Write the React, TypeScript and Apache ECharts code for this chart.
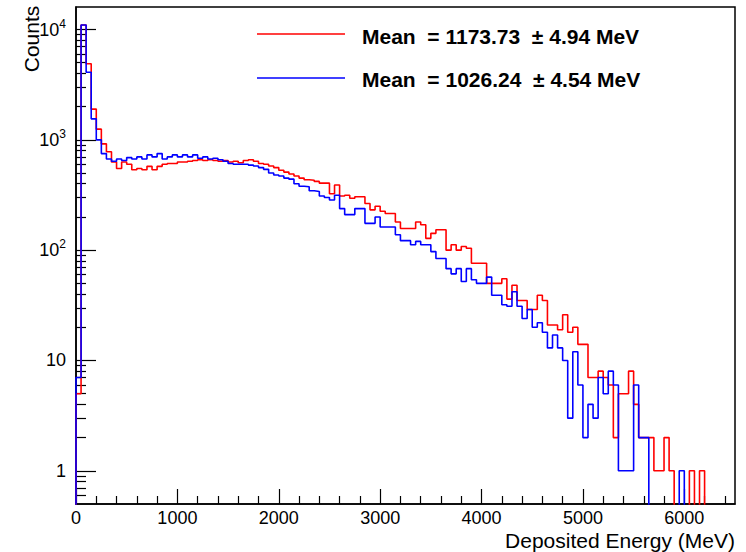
import React, { useEffect, useRef } from 'react';
import * as echarts from 'echarts';

// Histogram: 50 MeV bins from 0 to 6500 MeV (130 bins)
const binWidth = 50;
const xRange = [0, 6500];

const redCounts = [
  5, 11000, 4900, 1900, 1250, 920, 780, 630, 550, 630,
  600, 535, 550, 535, 575, 535, 575, 600, 610, 610,
  630, 630, 640, 650, 660, 650, 660, 650, 640, 650,
  630, 640, 620, 650, 660, 640, 610, 600, 580, 560,
  530, 510, 490, 470, 450, 435, 430, 420, 405, 405,
  325, 390, 310, 315, 295, 305, 305, 265, 232, 250,
  225, 215, 215, 180, 157, 157, 157, 180, 170, 128,
  142, 153, 153, 100, 112, 100, 108, 104, 76, 76,
  76, 50, 50, 50, 55, 36, 48, 35, 35, 29,
  29, 39, 35, 21, 21, 19, 26, 18, 20, 14,
  14, 7, 7, 8, 7, 6, 2, 5, 5, 8,
  4, 2, 2, 2, 1, 1, 2, 1, 0, 0,
  0, 1, 0, 1, 0, 0, 0, 0, 0, 0,
];

const blueCounts = [
  7, 11000, 4100, 1550, 1000, 750, 670, 640, 670, 650,
  690, 670, 700, 670, 730, 700, 750, 670, 700, 730,
  700, 730, 700, 730, 680, 700, 670, 680, 660, 640,
  610, 600, 600, 600, 590, 580, 560, 540, 500, 480,
  470, 450, 440, 400, 380, 375, 345, 340, 310, 300,
  285, 315, 238, 210, 210, 238, 238, 175, 175, 200,
  162, 162, 162, 138, 122, 122, 112, 120, 112, 112,
  97, 84, 84, 68, 61, 68, 52, 68, 54, 50,
  50, 57, 39, 39, 32, 31, 42, 31, 24, 29,
  20, 22, 18, 13, 17, 13, 10, 3, 12, 6,
  2, 4, 3, 7, 5, 8, 6, 1, 1, 1,
  6, 2, 2, 0, 0, 0, 0, 0, 0, 1,
  0, 0, 0, 0, 0, 0, 0, 0, 0, 0,
];

const xMajorTicks = [0, 1000, 2000, 3000, 4000, 5000, 6000];
const xMinorTicks = [
  200, 400, 600, 800, 1200, 1400, 1600, 1800, 2200, 2400, 2600, 2800,
  3200, 3400, 3600, 3800, 4200, 4400, 4600, 4800, 5200, 5400, 5600, 5800,
  6200, 6400,
];
const yRange = [0.5, 16000];
const yMajorTicks = [1, 10, 100, 1000, 10000];
const yMinorTicks = [
  0.6, 0.7, 0.8, 0.9,
  2, 3, 4, 5, 6, 7, 8, 9,
  20, 30, 40, 50, 60, 70, 80, 90,
  200, 300, 400, 500, 600, 700, 800, 900,
  2000, 3000, 4000, 5000, 6000, 7000, 8000, 9000,
];

const seriesNames = ['red', 'blue'];
const seriesColors = ['#ff0000', '#0000ff'];
const meanValues = ['1173.73', '1026.24'];
const meanErrors = ['4.94', '4.54'];
const xTitle = 'Deposited Energy (MeV)';
const yTitle = 'Counts';

const FONT = '"Liberation Sans", Arial, Helvetica, sans-serif';
const FLOOR = 0.01; // below the visible range: zero bins fall to the frame

function toSteps(counts: number[]): number[][] {
  const pts: number[][] = [[xRange[0], FLOOR]];
  counts.forEach((c, i) => {
    pts.push([i * binWidth, c > 0 ? c : FLOOR]);
  });
  const last = counts[counts.length - 1];
  pts.push([counts.length * binWidth, last > 0 ? last : FLOOR]);
  return pts;
}

export default function App() {
  const ref = useRef<HTMLDivElement>(null);

  useEffect(() => {
    document.body.style.margin = '0';
    if (!ref.current) return;
    const chart = echarts.init(ref.current, undefined, { renderer: 'svg' });

    const tickLine = { color: '#000', width: 1.2 };

    const option: any = {
      animation: false,
      backgroundColor: '#ffffff',
      grid: {
        left: 76,
        top: 7,
        right: 11,
        bottom: 48,
        show: true,
        borderColor: '#000',
        borderWidth: 1.5,
        backgroundColor: 'transparent',
      },
      xAxis: [
        {
          type: 'value',
          min: xRange[0],
          max: xRange[1],
          position: 'bottom',
          axisLine: { show: true, onZero: false, lineStyle: { color: '#000', width: 1.5 } },
          axisTick: { show: true, inside: true, length: 15, customValues: xMajorTicks, lineStyle: tickLine },
          axisLabel: {
            customValues: xMajorTicks,
            color: '#000',
            fontSize: 18,
            fontFamily: FONT,
            margin: 5,
            formatter: (v: number) => String(Math.round(v)),
          },
          splitLine: { show: false },
        },
        {
          type: 'value',
          min: xRange[0],
          max: xRange[1],
          position: 'bottom',
          axisLine: { show: false },
          axisTick: { show: true, inside: true, length: 8, customValues: xMinorTicks, lineStyle: tickLine },
          axisLabel: { show: false },
          splitLine: { show: false },
        },
      ],
      yAxis: [
        {
          type: 'log',
          logBase: 10,
          min: yRange[0],
          max: yRange[1],
          position: 'left',
          axisLine: { show: true, onZero: false, lineStyle: { color: '#000', width: 1.5 } },
          axisTick: { show: true, inside: true, length: 20, customValues: yMajorTicks, lineStyle: tickLine },
          axisLabel: {
            customValues: yMajorTicks,
            color: '#000',
            fontSize: 18,
            fontFamily: FONT,
            margin: 10,
            formatter: (v: number) => {
              const e = Math.round(Math.log10(v));
              if (e === 0) return '1';
              if (e === 1) return '10';
              return '{b|10}{s|' + e + '}';
            },
            rich: {
              b: { fontSize: 18, fontFamily: FONT, color: '#000', lineHeight: 24 },
              s: { fontSize: 12, fontFamily: FONT, color: '#000', lineHeight: 12, verticalAlign: 'top' },
            },
          },
          splitLine: { show: false },
        },
        {
          type: 'log',
          logBase: 10,
          min: yRange[0],
          max: yRange[1],
          position: 'left',
          axisLine: { show: false },
          axisTick: { show: true, inside: true, length: 10, customValues: yMinorTicks, lineStyle: tickLine },
          axisLabel: { show: false },
          splitLine: { show: false },
        },
      ],
      series: seriesNames.map((name, i) => ({
        name,
        type: 'line',
        xAxisIndex: 0,
        yAxisIndex: 0,
        step: 'end',
        showSymbol: false,
        symbol: 'none',
        clip: true,
        lineStyle: { color: seriesColors[i], width: 1.6 },
        data: toSteps(i === 0 ? redCounts : blueCounts),
      })),
      graphic: [
        {
          type: 'text',
          x: 31,
          y: 39,
          rotation: Math.PI / 2,
          style: {
            text: yTitle,
            fill: '#000',
            font: '21px ' + FONT,
            textAlign: 'center',
            align: 'center',
            textVerticalAlign: 'middle',
            verticalAlign: 'middle',
          },
        },
        {
          type: 'text',
          x: 735,
          y: 540,
          style: {
            text: xTitle,
            fill: '#000',
            font: '21px ' + FONT,
            textAlign: 'right',
            align: 'right',
            textVerticalAlign: 'middle',
            verticalAlign: 'middle',
          },
        },
        ...seriesNames.flatMap((_, i) => {
          const ly = i === 0 ? 34 : 78;
          const ty = i === 0 ? 36 : 79;
          return [
            {
              type: 'line',
              shape: { x1: 257, y1: ly, x2: 345, y2: ly },
              style: { stroke: seriesColors[i], lineWidth: 1.6 },
            },
            {
              type: 'text',
              x: 362,
              y: ty,
              style: {
                text: 'Mean  = ' + meanValues[i] + '  \u00b1 ' + meanErrors[i] + ' MeV',
                fill: '#000',
                font: 'bold 21px ' + FONT,
                textAlign: 'left',
                align: 'left',
                textVerticalAlign: 'middle',
                verticalAlign: 'middle',
              },
            },
          ];
        }),
      ],
    };

    chart.setOption(option);
    return () => chart.dispose();
  }, []);

  return <div ref={ref} style={{ width: 746, height: 552 }} />;
}
